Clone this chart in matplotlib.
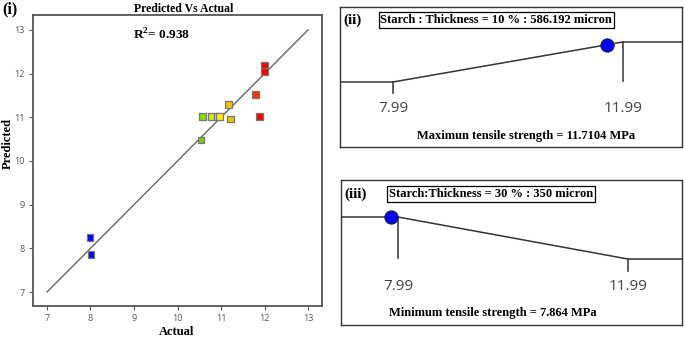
import numpy as np
import matplotlib
matplotlib.use("Agg")
from matplotlib import pyplot as plt

# data
actual = [7.99, 8.01, 10.54, 10.58, 10.77, 10.91, 10.96, 11.17, 11.21, 11.79, 11.89, 11.99, 11.99]
predicted = [8.25, 7.86, 10.48, 11.01, 11.01, 11.01, 11.01, 11.29, 10.96, 11.53, 11.01, 12.18, 12.05]
point_colors = ['#0000FF', '#0000FF', '#77CC11', '#88DD00', '#CCEE00', '#EEEE00', '#FFEE00',
                '#F2C200', '#F2C200', '#FF3300', '#FF0000', '#FF0000', '#FF0000']
ticks = [7, 8, 9, 10, 11, 12, 13]
r2 = 0.938

ramp_low, ramp_high = 7.99, 11.99
opt_max = 11.7104
opt_min = 7.864
label_max = 'Starch : Thickness = 10 % : 586.192 micron'
label_min = 'Starch:Thickness = 30 % : 350 micron'

serif = 'Liberation Serif'
sans = 'Open Sans'
plt.rcParams['mathtext.fontset'] = 'custom'
plt.rcParams['mathtext.bf'] = 'Liberation Serif:bold'
plt.rcParams['mathtext.rm'] = 'Liberation Serif:bold'

fig = plt.figure(figsize=(6.85, 3.39), dpi=100)

# (i) predicted vs actual
ax = fig.add_axes([0.0482, 0.0973, 0.4219, 0.8584])
ax.plot([7, 13], [7, 13], color='#666666', lw=1.0, zorder=1)
ax.scatter(actual, predicted, s=24, marker='s', c=point_colors,
           edgecolors='#777777', linewidths=0.9, zorder=3)
ax.set_xlim(6.68, 13.32)
ax.set_ylim(6.68, 13.34)
ax.set_xticks(ticks)
ax.set_yticks(ticks)
ax.tick_params(direction='out', length=3, width=0.8, color='#555555',
               labelsize=6.5, labelcolor='#555555', pad=3)
for lab in ax.get_xticklabels() + ax.get_yticklabels():
    lab.set_fontfamily(sans)
for sp in ax.spines.values():
    sp.set_color('#555555')
    sp.set_linewidth(1.3)
ax.text(8.98, 12.88, f'R$^{{\\mathbf{{2}}}}$= {r2}', fontsize=9.5, fontweight='bold',
        family=serif, va='center', ha='left')

fig.text(184 / 685, 1 - 9 / 339, 'Predicted Vs Actual', ha='center', va='center',
         fontsize=8.5, fontweight='bold', family=serif)
fig.text(2 / 685, 1 - 9 / 339, '(i)', ha='left', va='center',
         fontsize=11.5, fontweight='bold', family=serif)
fig.text(8 / 685, 1 - 143 / 339, 'Predicted', ha='center', va='center', rotation=90,
         fontsize=9, fontweight='bold', family=serif)
fig.text(177 / 685, 1 - 332 / 339, 'Actual', ha='center', va='center',
         fontsize=9, fontweight='bold', family=serif)


def ramp_panel(rect, xlim, ylim, goal, opt, tag, head, head_x, foot, foot_x):
    a = fig.add_axes(rect)
    xs = [xlim[0], ramp_low, ramp_high, xlim[1]]
    if goal == 'max':
        ys = [0, 0, 1, 1]
        d = np.clip((opt - ramp_low) / (ramp_high - ramp_low), 0, 1)
        a.plot([ramp_low, ramp_low], [0, -0.28], color='#444444', lw=1.2)
        a.plot([ramp_high, ramp_high], [1, 0.02], color='#444444', lw=1.2)
    else:
        ys = [1, 1, 0, 0]
        d = np.clip((ramp_high - opt) / (ramp_high - ramp_low), 0, 1)
        a.plot([ramp_low, ramp_low], [1, 0.02], color='#444444', lw=1.2)
        a.plot([ramp_high, ramp_high], [0, -0.28], color='#444444', lw=1.2)
    a.plot(xs, ys, color='#333333', lw=1.1, zorder=2)
    a.plot([opt], [d], 'o', ms=9.5, mfc='#0000FF', mec='#222222', mew=0.8, zorder=4)
    for v in (ramp_low, ramp_high):
        a.text(v, -0.66, f'{v:.2f}', ha='center', va='center', fontsize=11,
               family=sans, color='#444444')
    a.set_xlim(*xlim)
    a.set_ylim(*ylim)
    a.set_xticks([])
    a.set_yticks([])
    for sp in a.spines.values():
        sp.set_color('#333333')
        sp.set_linewidth(1.0)
    a.text(0.01, 0.905, tag, transform=a.transAxes, ha='left', va='center',
           fontsize=11, fontweight='bold', family=serif)
    a.text(head_x, 0.905, head, transform=a.transAxes, ha='left', va='center',
           fontsize=9, fontweight='bold', family=serif,
           bbox=dict(boxstyle='square,pad=0.15', fc='white', ec='black', lw=0.9))
    a.text(foot_x, 0.08, foot, transform=a.transAxes, ha='center', va='center',
           fontsize=9, fontweight='bold', family=serif)
    return a


ramp_panel([0.4964, 0.5664, 0.4993, 0.4130], (7.07, 13.02), (-1.625, 1.875), 'max', opt_max,
           '(ii)', label_max, 0.118,
           f'Maximun tensile strength = {opt_max} MPa', 0.543)
ramp_panel([0.4978, 0.0413, 0.4978, 0.4277], (7.00, 12.93), (-1.57, 1.88), 'min', opt_min,
           '(iii)', label_min, 0.14,
           f'Minimum tensile strength = {opt_min} MPa', 0.445)

fig.savefig('out.png', dpi=100)
